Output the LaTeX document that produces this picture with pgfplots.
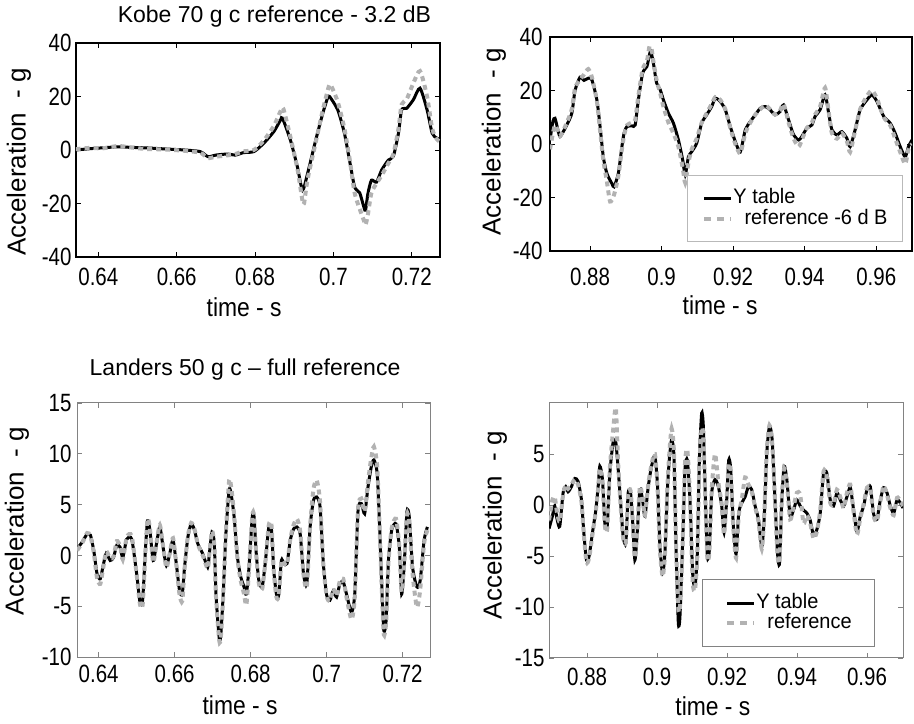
\documentclass[border=0pt]{standalone}
\usepackage{fontspec}
\setmainfont{Liberation Sans}
\newfontfamily\nA{Liberation Sans}[FakeStretch=0.82]
\newfontfamily\nB{Liberation Sans}[FakeStretch=0.95]
\newfontfamily\nC{Liberation Sans}[FakeStretch=0.88]
\usepackage{pgfplots}
\pgfplotsset{compat=1.18}
\definecolor{refgray}{RGB}{178,178,178}
\definecolor{framegray}{RGB}{130,130,130}
\definecolor{leggray}{RGB}{185,185,185}
\newcommand{\tickfont}{\nA\fontsize{25bp}{27bp}\selectfont}
\newcommand{\ylabfont}{\fontsize{26bp}{28bp}\selectfont}
\newcommand{\xlabfont}{\nC\fontsize{26bp}{28bp}\selectfont}
\newcommand{\titfont}{\fontsize{23bp}{26bp}\selectfont}
\newcommand{\legfont}{\nB\fontsize{21bp}{23bp}\selectfont}
\pgfplotsset{
  base/.style={
    scale only axis,
    /pgf/number format/assume math mode=true,
    tick label style={font=\tickfont},
    title style={font=\titfont, anchor=base},
    tick align=inside,
    major tick length=5bp,
    no markers,
    ylabel={Acceleration\ \ - g},
    xlabel={time - s},
    ylabel style={anchor=center, font=\ylabfont},
    xlabel style={anchor=base, font=\xlabfont},
    legend image code/.code={\draw[##1] (0bp,0bp) -- (27bp,0bp);},
    legend cell align=left,
  },
  topframe/.style={axis line style={line width=1.6bp, black}, every tick/.style={black, line width=0.9bp}},
  botframe/.style={axis line style={line width=1bp, framegray}, every tick/.style={framegray, line width=0.9bp}},
  blk/.style={black, line width=3bp, smooth, tension=0.4},
  rf/.style={refgray, line width=4bp, dash pattern=on 5bp off 4bp, smooth, tension=0.4,
    legend image post style={dash pattern=on 7bp off 6bp}},
}
\begin{document}
\begin{tikzpicture}
\useasboundingbox (0bp,0bp) rectangle (914bp,724bp);
% ---------------- Top left: Kobe ----------------
\begin{axis}[base, topframe,
  at={(76bp,467bp)}, anchor=south west, width=364bp, height=214bp,
  xmin=0.6343, xmax=0.7272, ymin=-40, ymax=40,
  xtick={0.64,0.66,0.68,0.7,0.72}, xticklabels={0.64,0.66,0.68,0.7,0.72},
  ytick={-40,-20,0,20,40}, yticklabels={-40,-20,0,20,40},
  xticklabel style={yshift=-8bp}, yticklabel style={xshift=-1bp},
  title={Kobe 70 g c reference - 3.2 dB},
  title style={at={(axis description cs:0.545,1.070)}},
  ylabel style={at={(axis description cs:-0.157,0.444)}},
  xlabel style={at={(axis description cs:0.462,-0.280)}},
]
\addplot[blk] table {
0.6342 0.0
0.6380 0.5
0.6410 0.8
0.6450 1.2
0.6480 1.0
0.6520 0.8
0.6570 0.4
0.6620 0.0
0.6660 -0.6
0.6680 -2.5
0.6700 -1.9
0.6730 -1.5
0.6750 -1.9
0.6770 -1.0
0.6797 -0.6
0.6822 2.5
0.6848 6.9
0.6865 11.2
0.6870 11.9
0.6890 3.8
0.6908 -6.3
0.6921 -15.0
0.6934 -8.8
0.6955 3.8
0.6973 13.8
0.6985 19.4
0.6990 20.0
0.7011 15.0
0.7028 6.3
0.7041 -3.8
0.7054 -13.8
0.7067 -16.0
0.7078 -21.5
0.7082 -22.5
0.7088 -16.3
0.7097 -11.3
0.7110 -12.0
0.7123 -7.5
0.7140 -3.8
0.7153 -2.3
0.7166 6.3
0.7174 15.0
0.7187 15.6
0.7204 18.8
0.7221 23.1
0.7239 15.0
0.7252 6.3
0.7264 4.4
0.7279 3.8
};
\addplot[rf] table {
0.6342 0.3
0.6380 0.8
0.6410 0.6
0.6450 1.5
0.6480 1.0
0.6520 0.4
0.6570 0.2
0.6620 -0.3
0.6660 -1.0
0.6680 -3.0
0.6700 -2.5
0.6730 -2.0
0.6750 -1.5
0.6770 -0.5
0.6797 0.0
0.6822 3.5
0.6848 9.0
0.6865 14.5
0.6872 15.5
0.6890 5.0
0.6908 -7.0
0.6921 -19.0
0.6925 -20.0
0.6934 -11.0
0.6955 3.0
0.6973 15.0
0.6985 22.0
0.6992 24.5
0.7011 18.0
0.7028 8.0
0.7041 -3.0
0.7054 -16.0
0.7067 -22.0
0.7078 -26.5
0.7082 -28.0
0.7088 -24.0
0.7097 -16.0
0.7110 -12.5
0.7123 -9.5
0.7140 -5.0
0.7153 -1.5
0.7166 8.0
0.7174 17.0
0.7187 19.0
0.7204 25.0
0.7221 29.5
0.7239 20.0
0.7252 8.0
0.7264 4.0
0.7279 2.5
};
\end{axis}
% ---------------- Top right ----------------
\begin{axis}[base, topframe,
  at={(550bp,473bp)}, anchor=south west, width=362bp, height=214bp,
  xmin=0.8688, xmax=0.9700, ymin=-40, ymax=40,
  xtick={0.88,0.9,0.92,0.94,0.96}, xticklabels={0.88,0.9,0.92,0.94,0.96},
  ytick={-40,-20,0,20,40}, yticklabels={-40,-20,0,20,40},
  xticklabel style={yshift=-14bp}, yticklabel style={xshift=-4bp},
  ylabel style={at={(axis description cs:-0.155,0.51)}},
  xlabel style={at={(axis description cs:0.47,-0.299)}},
  legend style={at={(0.975,0.042)}, anchor=south east, draw=leggray, line width=0.8bp,
    font=\legfont, inner xsep=15bp, inner ysep=13bp, row sep=2bp,
    nodes={inner sep=0bp, text height=15bp, text depth=4bp}},
]
\addplot[blk] table {
0.8688 1.5
0.8696 8.4
0.8702 9.6
0.8710 5.3
0.8716 2.8
0.8725 4.6
0.8735 7.1
0.8749 11.5
0.8758 20.0
0.8772 25.0
0.8783 23.8
0.8795 24.6
0.8805 24.0
0.8819 16.5
0.8828 6.5
0.8837 -4.8
0.8847 -11.0
0.8861 -14.8
0.8867 -16.0
0.8879 -11.0
0.8889 -1.0
0.8895 4.0
0.8903 6.5
0.8917 6.8
0.8926 7.1
0.8935 16.5
0.8947 26.5
0.8959 29.0
0.8966 33.4
0.8970 34.6
0.8977 30.3
0.8986 22.8
0.8996 20.3
0.9005 16.5
0.9019 11.5
0.9033 7.8
0.9047 1.5
0.9059 -6.0
0.9066 -11.6
0.9075 -4.8
0.9084 -2.9
0.9098 0.3
0.9112 7.8
0.9126 10.9
0.9140 14.0
0.9150 17.1
0.9164 15.9
0.9178 12.8
0.9192 6.5
0.9206 0.9
0.9220 -2.9
0.9234 5.3
0.9248 8.4
0.9262 10.9
0.9276 13.4
0.9290 14.0
0.9303 12.8
0.9317 10.9
0.9331 12.1
0.9341 14.6
0.9355 9.0
0.9369 3.4
0.9383 1.5
0.9392 2.8
0.9406 5.9
0.9420 7.1
0.9429 10.3
0.9443 12.8
0.9457 18.4
0.9467 11.5
0.9476 5.3
0.9490 3.4
0.9504 4.6
0.9518 2.1
0.9527 -1.0
0.9541 5.3
0.9555 12.8
0.9574 16.5
0.9588 18.4
0.9602 15.9
0.9621 10.3
0.9639 7.8
0.9653 4.0
0.9667 -1.0
0.9681 -4.8
0.9690 -1.0
0.9700 1.5
};
\addlegendentry{Y table}
\addplot[rf] table {
0.8688 -2.0
0.8696 4.0
0.8702 7.0
0.8710 5.0
0.8716 3.0
0.8725 5.0
0.8735 8.0
0.8749 13.0
0.8758 21.0
0.8772 24.0
0.8783 26.0
0.8795 28.0
0.8805 25.0
0.8819 16.0
0.8828 5.0
0.8837 -6.0
0.8847 -14.0
0.8856 -21.5
0.8867 -19.0
0.8879 -12.0
0.8889 -2.0
0.8895 3.0
0.8903 7.0
0.8917 8.0
0.8926 9.0
0.8935 18.0
0.8947 28.0
0.8959 31.0
0.8966 36.5
0.8972 35.5
0.8977 31.0
0.8986 24.0
0.8996 19.0
0.9005 14.0
0.9019 8.0
0.9033 4.0
0.9047 -1.0
0.9059 -9.0
0.9066 -14.5
0.9075 -7.0
0.9084 -2.0
0.9098 2.0
0.9112 8.0
0.9126 11.5
0.9140 15.0
0.9150 17.5
0.9164 16.5
0.9178 13.0
0.9192 6.0
0.9206 0.0
0.9220 -3.5
0.9234 4.0
0.9248 8.0
0.9262 11.0
0.9276 13.0
0.9290 14.5
0.9303 13.0
0.9317 11.0
0.9331 12.5
0.9341 15.0
0.9355 8.0
0.9369 2.0
0.9383 -1.0
0.9392 1.5
0.9406 6.0
0.9420 8.0
0.9429 11.0
0.9443 14.0
0.9457 21.0
0.9467 12.0
0.9476 4.0
0.9490 2.0
0.9504 4.0
0.9518 1.0
0.9527 -3.0
0.9541 5.0
0.9555 13.0
0.9574 18.0
0.9588 20.0
0.9602 17.0
0.9621 10.0
0.9639 7.0
0.9653 2.0
0.9667 -3.0
0.9681 -7.5
0.9690 -2.0
0.9700 0.0
};
\addlegendentry{\ \ reference -6 d B}
\end{axis}
% ---------------- Bottom left: Landers ----------------
\begin{axis}[base, botframe,
  at={(77bp,67bp)}, anchor=south west, width=353bp, height=254bp,
  xmin=0.6343, xmax=0.7272, ymin=-10, ymax=15,
  xtick={0.64,0.66,0.68,0.7,0.72}, xticklabels={0.64,0.66,0.68,0.7,0.72},
  ytick={-10,-5,0,5,10,15}, yticklabels={-10,-5,0,5,10,15},
  xticklabel style={yshift=-5bp}, yticklabel style={xshift=-2bp},
  title={Landers 50 g c – full reference},
  title style={at={(axis description cs:0.476,1.083)}},
  ylabel style={at={(axis description cs:-0.170,0.535)}},
  xlabel style={at={(axis description cs:0.462,-0.228)}},
]
\addplot[blk] table {
0.63435 0.66
0.63565 1.3
0.63696 2.1
0.63783 2.0
0.63870 0.5
0.63957 -1.8
0.64043 -2.3
0.64130 -0.8
0.64200 0.2
0.64304 -0.5
0.64391 -0.2
0.64478 1.0
0.64565 0.8
0.64635 -0.2
0.64739 1.6
0.64870 1.6
0.65000 -1.8
0.65087 -4.6
0.65157 -4.4
0.65235 0.8
0.65287 3.4
0.65348 2.5
0.65435 -0.5
0.65522 1.15
0.65609 2.8
0.65696 0.8
0.65783 -1.0
0.65870 0.16
0.65957 1.5
0.66043 -0.8
0.66130 -3.5
0.66200 -3.8
0.66261 -1.15
0.66348 1.8
0.66435 3.1
0.66522 2.5
0.66609 1.15
0.66739 0.16
0.66870 -1.15
0.66913 0.16
0.66983 2.3
0.67043 1.15
0.67087 -3.8
0.67174 -8.2
0.67217 -7.7
0.67278 -3.8
0.67348 2.1
0.67435 6.5
0.67496 5.8
0.67565 3.8
0.67652 -0.16
0.67739 -2.1
0.67826 -3.1
0.67887 -3.8
0.67957 -1.15
0.68043 3.8
0.68087 3.9
0.68148 0.16
0.68217 -2.5
0.68304 -3.1
0.68391 -0.5
0.68478 2.8
0.68548 2.5
0.68609 -1.5
0.68678 -3.8
0.68739 -3.9
0.68809 -0.5
0.68870 -0.8
0.68957 -0.8
0.69043 1.5
0.69130 2.6
0.69217 2.8
0.69304 2.1
0.69391 -1.8
0.69478 -2.8
0.69565 2.8
0.69652 5.4
0.69739 5.75
0.69826 4.8
0.69913 -0.8
0.70000 -3.9
0.70087 -4.4
0.70174 -3.5
0.70261 -4.1
0.70348 -2.8
0.70435 -2.6
0.70522 -3.8
0.70652 -5.6
0.70739 -3.8
0.70826 4.4
0.70913 5.1
0.71000 4.1
0.71087 6.7
0.71174 8.7
0.71243 9.4
0.71330 8.1
0.71391 3.1
0.71452 -3.1
0.71504 -7.4
0.71565 -6.4
0.71626 -0.5
0.71713 2.5
0.71826 3.1
0.71913 0.8
0.71974 -3.8
0.72043 -0.8
0.72113 4.3
0.72174 3.8
0.72261 -1.15
0.72374 -3.1
0.72461 -2.5
0.72565 1.5
0.72652 2.8
};
\addplot[rf] table {
0.63435 0.5
0.63565 1.2
0.63696 2.2
0.63783 1.9
0.63870 0.3
0.63957 -2.2
0.64043 -2.8
0.64130 -1.0
0.64200 0.4
0.64304 -0.3
0.64391 -0.1
0.64478 1.4
0.64565 0.9
0.64635 -0.4
0.64739 1.8
0.64870 1.9
0.65000 -1.9
0.65087 -4.8
0.65157 -4.9
0.65235 0.6
0.65287 3.6
0.65348 2.7
0.65435 -0.7
0.65522 1.2
0.65609 3.0
0.65696 0.9
0.65783 -1.2
0.65870 0.2
0.65957 1.7
0.66043 -0.9
0.66130 -3.9
0.66200 -4.5
0.66261 -1.3
0.66348 1.9
0.66435 3.2
0.66522 2.6
0.66609 1.1
0.66739 0.0
0.66870 -1.3
0.66913 0.1
0.66983 2.4
0.67043 1.0
0.67087 -4.0
0.67174 -8.4
0.67217 -8.0
0.67278 -4.0
0.67348 2.3
0.67435 7.4
0.67496 6.5
0.67565 4.0
0.67652 -0.3
0.67739 -2.5
0.67826 -3.8
0.67887 -4.9
0.67957 -1.4
0.68043 3.9
0.68087 3.9
0.68148 0.0
0.68217 -2.8
0.68304 -3.3
0.68391 -0.5
0.68478 3.0
0.68548 3.0
0.68609 -1.6
0.68678 -4.1
0.68739 -4.0
0.68809 -0.6
0.68870 -0.7
0.68957 -0.9
0.69043 1.6
0.69130 3.0
0.69217 3.6
0.69304 2.4
0.69391 -1.9
0.69478 -3.1
0.69565 2.9
0.69652 6.5
0.69739 7.4
0.69826 5.3
0.69913 -0.9
0.70000 -4.0
0.70087 -4.5
0.70174 -3.3
0.70261 -4.0
0.70348 -2.5
0.70435 -2.3
0.70522 -4.1
0.70652 -6.3
0.70739 -4.2
0.70826 4.6
0.70913 5.6
0.71000 4.3
0.71087 7.2
0.71174 9.6
0.71243 10.7
0.71330 8.8
0.71391 3.0
0.71452 -3.5
0.71504 -7.8
0.71565 -6.6
0.71626 -0.7
0.71713 2.7
0.71826 3.6
0.71913 0.9
0.71974 -3.6
0.72043 -0.6
0.72113 4.0
0.72174 3.2
0.72261 -1.8
0.72374 -5.1
0.72461 -3.4
0.72565 1.2
0.72652 2.5
};
\end{axis}
% ---------------- Bottom right ----------------
\begin{axis}[base, botframe,
  at={(549bp,66bp)}, anchor=south west, width=354bp, height=255bp,
  xmin=0.8691, xmax=0.9703, ymin=-15, ymax=10,
  xtick={0.88,0.9,0.92,0.94,0.96}, xticklabels={0.88,0.9,0.92,0.94,0.96},
  ytick={-15,-10,-5,0,5}, yticklabels={-15,-10,-5,0,5},
  xticklabel style={yshift=-7bp}, yticklabel style={xshift=-1bp},
  ylabel style={at={(axis description cs:-0.153,0.52)}},
  xlabel style={at={(axis description cs:0.463,-0.224)}},
  legend style={at={(0.921,0.043)}, anchor=south east, draw=framegray, line width=0.8bp,
    font=\legfont, inner xsep=23bp, inner ysep=14bp, row sep=1bp,
    nodes={inner sep=0bp, text height=15bp, text depth=4bp}},
]
\addplot[blk] table {
0.86912 -2.3
0.87007 -1.1
0.87074 -0.1
0.87141 -1.4
0.87217 -2.1
0.87313 1.2
0.87389 1.8
0.87456 1.3
0.87551 1.8
0.87647 2.6
0.87742 2.3
0.87838 0.5
0.87905 -2.7
0.87981 -5.4
0.88057 -5.0
0.88153 -2.7
0.88248 -0.5
0.88315 1.8
0.88363 3.8
0.88439 2.5
0.88506 -1.8
0.88573 -2.1
0.88649 3.1
0.88745 6.2
0.88821 6.1
0.88888 3.5
0.88964 -0.1
0.89031 -3.1
0.89107 -3.7
0.89174 1.2
0.89241 1.2
0.89298 -1.4
0.89365 -5.4
0.89432 -2.7
0.89508 1.5
0.89585 0.5
0.89652 -1.1
0.89747 1.8
0.89842 3.8
0.89938 4.8
0.90014 1.8
0.90081 -4.05
0.90158 -6.7
0.90224 -4.7
0.90291 1.2
0.90348 4.4
0.90415 6.4
0.90482 4.8
0.90539 -3.7
0.90606 -11.5
0.90654 -10.9
0.90730 -3.7
0.90797 3.5
0.90864 4.4
0.90940 0.5
0.91017 -6.7
0.91084 -8.0
0.91150 -4.7
0.91208 4.4
0.91274 9.0
0.91322 7.7
0.91370 1.8
0.91437 -5.0
0.91494 -4.4
0.91561 1.2
0.91656 2.5
0.91752 1.8
0.91847 -0.1
0.91914 -2.7
0.91990 0.5
0.92048 4.4
0.92105 3.5
0.92181 -2.1
0.92258 -4.8
0.92334 -0.8
0.92420 0.2
0.92516 0.8
0.92611 1.8
0.92706 1.5
0.92802 -0.1
0.92897 -1.4
0.92993 -4.05
0.93060 -1.4
0.93136 5.1
0.93212 7.7
0.93289 6.4
0.93375 0.2
0.93442 -4.7
0.93499 -5.7
0.93566 0.5
0.93632 3.8
0.93709 2.5
0.93804 -1.1
0.93900 -0.5
0.93995 0.5
0.94091 -0.1
0.94186 -0.5
0.94282 -0.8
0.94377 -1.5
0.94473 -3.0
0.94568 -2.4
0.94663 -0.8
0.94759 3.1
0.94854 3.1
0.94950 0.5
0.95045 -0.1
0.95141 1.2
0.95236 0.5
0.95332 -0.1
0.95427 0.8
0.95523 1.7
0.95618 -0.5
0.95714 -2.6
0.95809 -1.1
0.95905 -0.1
0.96000 1.5
0.96095 1.8
0.96191 -0.9
0.96286 -1.4
0.96382 0.5
0.96477 1.7
0.96573 1.2
0.96668 -0.1
0.96764 -0.8
0.96859 0.5
0.96955 0.2
0.97031 -0.3
};
\addlegendentry{Y table}
\addplot[rf] table {
0.86912 -1.5
0.87007 0.5
0.87074 0.8
0.87141 -0.8
0.87217 -1.6
0.87313 1.0
0.87389 2.0
0.87456 1.6
0.87551 2.0
0.87647 2.5
0.87742 2.0
0.87838 0.3
0.87905 -2.9
0.87981 -5.6
0.88057 -5.2
0.88153 -2.9
0.88248 -0.6
0.88315 1.6
0.88363 3.6
0.88439 2.2
0.88506 -2.0
0.88573 -2.4
0.88649 3.6
0.88745 7.4
0.88821 9.5
0.88888 4.0
0.88964 -0.4
0.89031 -3.3
0.89107 -3.6
0.89174 1.0
0.89241 1.4
0.89298 -1.2
0.89365 -5.2
0.89432 -2.5
0.89508 1.8
0.89585 0.7
0.89652 -1.0
0.89747 2.0
0.89842 4.0
0.89938 5.0
0.90014 1.6
0.90081 -4.5
0.90158 -7.0
0.90224 -4.9
0.90291 1.5
0.90348 5.0
0.90415 7.5
0.90482 5.2
0.90539 -3.5
0.90606 -10.0
0.90654 -10.0
0.90730 -3.9
0.90797 4.0
0.90864 5.4
0.90940 0.8
0.91017 -7.5
0.91084 -8.3
0.91150 -5.0
0.91208 3.8
0.91274 7.5
0.91322 6.8
0.91370 1.6
0.91437 -5.2
0.91494 -4.6
0.91561 1.5
0.91656 5.0
0.91752 2.2
0.91847 0.1
0.91914 -2.9
0.91990 0.7
0.92048 4.0
0.92105 3.2
0.92181 -2.4
0.92258 -5.2
0.92334 -1.0
0.92420 0.5
0.92516 2.7
0.92611 2.0
0.92706 1.3
0.92802 -0.2
0.92897 -1.6
0.92993 -4.3
0.93060 -1.2
0.93136 5.4
0.93212 7.8
0.93289 6.2
0.93375 0.0
0.93442 -4.9
0.93499 -5.5
0.93566 0.8
0.93632 3.6
0.93709 2.2
0.93804 -1.4
0.93900 -0.2
0.93995 1.2
0.94091 1.0
0.94186 -1.8
0.94282 -1.0
0.94377 -1.8
0.94473 -3.3
0.94568 -2.6
0.94663 -0.5
0.94759 3.3
0.94854 2.8
0.94950 0.2
0.95045 0.1
0.95141 1.5
0.95236 0.8
0.95332 -0.3
0.95427 1.2
0.95523 2.0
0.95618 -0.7
0.95714 -2.9
0.95809 -1.3
0.95905 0.1
0.96000 1.7
0.96095 1.6
0.96191 -1.1
0.96286 -1.6
0.96382 0.3
0.96477 1.9
0.96573 1.0
0.96668 -0.3
0.96764 -1.0
0.96859 0.7
0.96955 0.4
0.97031 -0.1
};
\addlegendentry{\ \ reference}
\end{axis}
\end{tikzpicture}
\end{document}
